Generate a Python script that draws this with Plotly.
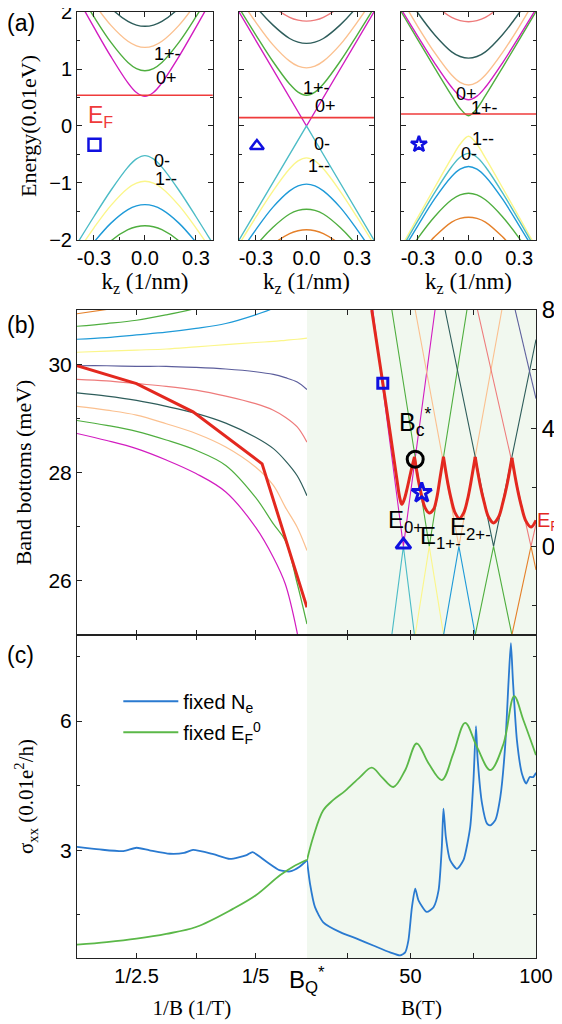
import plotly.graph_objects as go

SANS = "Liberation Sans, Arial, sans-serif"
SERIF = "Liberation Serif, Times New Roman, serif"

# ---------------- colours ----------------
C_MAG = "#d21cc0"
C_GRN = "#4fae3f"
C_PEA = "#fbc08f"
C_SLA = "#2e5d5b"
C_SAL = "#ee7b7b"
C_NAV = "#5c5e9c"
C_CYA = "#4cbcc6"
C_YEL = "#fbf68a"
C_BLU = "#1e9ad8"
C_ORA = "#e5802a"
C_RED = "#e3281f"
C_SHADE = "#f1f8ef"

# ---------------- panel (a): Landau bands vs kz ----------------
K_HALF = [0.0, 0.05, 0.1, 0.2, 0.3, 0.4]   # kz (1/nm), curves are symmetric

# subplot 1 (square)
a1_mag = [0.52, 0.588, 0.757, 1.217, 1.730, 2.261]
a1_grn = [0.97, 1.008, 1.115, 1.467, 1.914, 2.404]
a1_pea = [1.38, 1.407, 1.486, 1.765, 2.151, 2.597]
a1_sla = [1.75, 1.771, 1.834, 2.067, 2.405, 2.800]
a1_cya = [-0.52, -0.577, -0.721, -1.127, -1.588, -2.067]
a1_yel = [-0.97, -1.002, -1.091, -1.393, -1.786, -2.223]
a1_blu = [-1.38, -1.402, -1.468, -1.704, -2.038, -2.430]
a1_gr2 = [-1.75, -1.768, -1.820, -2.016, -2.330, -2.660]
a1_EF = 0.54

# subplot 2 (triangle)
a2_mag = [0.0, 0.25, 0.5, 1.0, 1.5, 2.0]
a2_grn = [0.54, 0.595, 0.737, 1.136, 1.596, 2.072]
a2_pea = [1.02, 1.050, 1.138, 1.428, 1.818, 2.250]
a2_sla = [1.45, 1.471, 1.535, 1.774, 2.093, 2.480]
a2_sal = [1.84, 1.857, 1.907, 2.097, 2.380, 2.730]
a2_cya = [0.0, -0.25, -0.5, -1.0, -1.5, -2.0]
a2_yel = [-0.56, -0.613, -0.751, -1.146, -1.601, -2.077]
a2_blu = [-1.02, -1.050, -1.138, -1.428, -1.818, -2.250]
a2_gr2 = [-1.46, -1.481, -1.544, -1.782, -2.100, -2.490]
a2_ora = [-1.82, -1.837, -1.888, -2.079, -2.370, -2.720]
a2_EF = 0.146

# subplot 3 (star)
a3_grn = [0.18, 0.308, 0.532, 1.016, 1.511, 2.008]
a3_mag = [0.46, 0.524, 0.679, 1.100, 1.569, 2.052]
a3_pea = [0.72, 0.767, 0.894, 1.282, 1.741, 2.243]
a3_sla = [1.19, 1.219, 1.301, 1.597, 1.982, 2.430]
a3_sal = [1.83, 1.849, 1.905, 2.125, 2.430, 2.800]
a3_yel = [-0.18, -0.320, -0.560, -1.075, -1.600, -2.128]
a3_cya = [-0.48, -0.548, -0.715, -1.164, -1.662, -2.174]
a3_blu = [-0.71, -0.758, -0.886, -1.276, -1.746, -2.236]
a3_gr2 = [-1.18, -1.209, -1.295, -1.587, -1.966, -2.400]
a3_ora = [-1.60, -1.622, -1.686, -1.941, -2.270, -2.660]
a3_EF = 0.21

K_EDGE = [-0.4, 0.4]

# band labels (text, kz, E)
a1_labels = [("1+-", 0.13, 1.27), ("0+", 0.125, 0.85), ("0-", 0.10, -0.62), ("1--", 0.125, -0.93)]
a2_labels = [("1+-", 0.06, 0.66), ("0+", 0.11, 0.35), ("0-", 0.09, -0.32), ("1--", 0.075, -0.70)]
a3_labels = [("0+", -0.01, 0.56), ("1+-", 0.095, 0.31), ("1--", 0.085, -0.23), ("0-", 0.0, -0.50)]
a_marker_k = [-0.297, -0.294, -0.294]
a_marker_E = [-0.33, -0.35, -0.32]

# ---------------- panel (b) left: band bottoms vs 1/B ----------------
invB = [0.5, 0.45, 0.4, 0.35, 0.3, 0.25, 0.2, 0.17, 0.15, 0.13, 0.1136]
bL_mag = [28.72, 28.59, 28.44, 28.23, 27.98, 27.64, 26.99, 26.43, 25.94, 25.04, 24.0]
bL_grn = [28.96, 28.87, 28.76, 28.60, 28.41, 28.13, 27.54, 27.05, 26.74, 25.95, 25.2]
bL_pea = [29.22, 29.15, 29.06, 28.90, 28.72, 28.47, 28.10, 27.76, 27.36, 26.99, 26.56]
bL_sla = [29.47, 29.41, 29.33, 29.22, 29.09, 28.91, 28.65, 28.44, 28.22, 27.94, 27.57]
bL_sal = [29.72, 29.69, 29.64, 29.59, 29.52, 29.41, 29.27, 29.15, 29.02, 28.84, 28.56]
bL_nav = [29.97, 29.97, 29.96, 29.96, 29.94, 29.91, 29.86, 29.81, 29.75, 29.67, 29.53]
bL_yel = [30.22, 30.24, 30.26, 30.28, 30.32, 30.36, 30.40, 30.42, 30.44, 30.46, 30.48]
bL_blu = [30.46, 30.49, 30.54, 30.59, 30.66, 30.75, 30.91, 31.03, 31.12, 31.22, 31.31]
bL_gr2 = [30.70, 30.75, 30.81, 30.91, 31.03, 31.19]
bL_ora = [30.93, 31.01, 31.09]
bL_red_x = [0.5, 0.4, 0.305, 0.189, 0.1136]
bL_red_y = [29.97, 29.64, 29.12, 28.16, 25.51]

# ---------------- panel (b) right: band bottoms vs B ----------------
bR_mag_B, bR_mag_E = [35.0, 47.2, 59.8], [8, 0, 8]
bR_grn_B, bR_grn_E = [42.6, 57.5, 72.5], [8, 0, 8]
bR_pea_B, bR_pea_E = [51.9, 69.3, 86.4], [8, 0, 8]
bR_sla_B, bR_sla_E = [63.8, 83.1, 100.0], [8, 0, 7.0]
bR_sal_B, bR_sal_E = [76.7, 98.0, 100.0], [8, 0, 0.75]
bR_nav_B, bR_nav_E = [91.7, 100.0], [8, 5.0]
bR_cya_B, bR_cya_E = [42.6, 47.2, 51.6], [-3, 0, -3]
bR_yel_B, bR_yel_E = [51.9, 57.5, 63.2], [-3, 0, -3]
bR_blu_B, bR_blu_E = [63.2, 69.3, 75.8], [-3, 0, -3]
bR_gr2_B, bR_gr2_E = [75.8, 83.1, 90.4], [-3, 0, -3]
bR_ora_B, bR_ora_E = [90.4, 98.0, 100.0], [-3, 0, -0.8]

EF_B = [34.6, 39.0, 42.0, 44.6, 45.8, 46.6, 47.6, 48.8, 50.1, 51.6, None,
        51.6, 53.2, 54.5, 55.85, 57.45, 59.2, 60.5, 61.8, 63.15, None,
        63.15, 64.9, 66.3, 67.8, 69.5, 71.2, 72.7, 74.0, 75.8, None,
        75.8, 77.8, 79.45, 81.1, 83.1, 85.1, 86.75, 88.4, 90.4, None,
        90.4, 92.5, 94.2, 95.95, 98.0, 100.0]
EF_E = [8.0, 5.53, 3.8, 2.27, 1.62, 1.42, 1.6, 2.0, 2.5, 3.03, None,
        3.03, 2.21, 1.70, 1.30, 1.13, 1.25, 1.64, 2.32, 3.03, None,
        3.03, 2.13, 1.57, 1.13, 0.94, 1.13, 1.57, 2.13, 3.03, None,
        3.02, 2.06, 1.46, 0.99, 0.79, 0.99, 1.46, 2.06, 3.0, None,
        3.0, 1.99, 1.35, 0.86, 0.65, 0.88]

bR_sq = (39.0, 5.52)
bR_circ = (51.9, 2.95)
bR_tri = (47.2, 0.05)
bR_star = (54.5, 1.81)

# ---------------- panel (c): sigma_xx ----------------
cL_x = [0.5, 0.462, 0.422, 0.4, 0.378, 0.344, 0.32, 0.305, 0.271, 0.243, 0.215, 0.205, 0.182, 0.160, 0.142, 0.126, 0.1136]
cL_Ne = [3.08, 3.02, 2.98, 3.06, 3.00, 2.92, 2.94, 3.01, 2.91, 2.80, 2.89, 2.96, 2.74, 2.54, 2.51, 2.62, 2.77]
cL_EFx = [0.5, 0.45, 0.4, 0.35, 0.3, 0.238, 0.2, 0.159, 0.137, 0.1136]
cL_EF = [0.81, 0.87, 0.95, 1.06, 1.22, 1.64, 1.95, 2.42, 2.62, 2.78]

cR_B_Ne = [8.8, 10.0, 12.0, 15.3, 22.0, 28.6, 35.2, 41.9, 45.9, 47.9, 49.2, 50.6, 51.9, 53.2, 56.5, 59.2,
           61.2, 62.5, 63.15, 64.1, 65.8, 68.5, 71.1, 73.8, 75.1, 76.1, 76.7, 78.5, 80.5, 81.8, 83.8,
           85.8, 87.7, 89.1, 90.0, 90.8, 92.4, 94.4, 96.1, 97.5, 98.9, 100.0]
cR_Ne = [2.77, 2.23, 1.68, 1.33, 1.10, 0.95, 0.79, 0.63, 0.56, 0.63, 0.91, 1.68, 2.11, 1.84, 1.57, 1.68,
         2.07, 3.08, 3.97, 3.31, 2.77, 2.57, 2.77, 3.54, 4.63, 5.88, 5.17, 4.09, 3.62, 3.58, 3.70,
         4.24, 5.40, 6.95, 7.81, 6.95, 5.56, 4.78, 4.55, 4.70, 4.70, 4.80]
cR_B_EF = [8.8, 11.3, 15.3, 19.3, 24.0, 29.9, 34.6, 38.6, 43.2, 47.9, 52.5, 57.2, 62.5, 67.1, 71.8,
           76.5, 81.8, 87.1, 91.3, 95.0, 100.0]
cR_EF = [2.77, 3.31, 3.93, 4.17, 4.38, 4.70, 4.92, 4.70, 4.47, 4.86, 5.48, 5.02, 4.63, 5.25, 5.96,
         5.40, 4.86, 5.48, 6.58, 6.02, 5.21]

# ---------------- figure ----------------
fig = go.Figure()


def mirror(half):
    k = [-v for v in reversed(K_HALF[1:])] + K_HALF
    e = [v for v in reversed(half[1:])] + half
    return k, e


def band(half, color, xa, ya, shape="spline"):
    k, e = mirror(half)
    fig.add_trace(go.Scatter(x=k, y=e, xaxis=xa, yaxis=ya, mode="lines",
                             line=dict(color=color, width=1.4, shape=shape),
                             showlegend=False, hoverinfo="skip"))


def hline(val, xa, ya):
    fig.add_trace(go.Scatter(x=K_EDGE, y=[val, val], xaxis=xa, yaxis=ya, mode="lines",
                             line=dict(color="#ef3b3b", width=1.6), showlegend=False, hoverinfo="skip"))


for h, c in [(a1_mag, C_MAG), (a1_grn, C_GRN), (a1_pea, C_PEA), (a1_sla, C_SLA),
             (a1_cya, C_CYA), (a1_yel, C_YEL), (a1_blu, C_BLU), (a1_gr2, C_GRN)]:
    band(h, c, "x", "y")
hline(a1_EF, "x", "y")

for h, c in [(a2_grn, C_GRN), (a2_pea, C_PEA), (a2_sla, C_SLA), (a2_sal, C_SAL),
             (a2_yel, C_YEL), (a2_blu, C_BLU), (a2_gr2, C_GRN), (a2_ora, C_ORA)]:
    band(h, c, "x2", "y2")
band(a2_mag, C_MAG, "x2", "y2", shape="linear")
band(a2_cya, C_CYA, "x2", "y2", shape="linear")
hline(a2_EF, "x2", "y2")

for h, c in [(a3_grn, C_GRN), (a3_mag, C_MAG), (a3_pea, C_PEA), (a3_sla, C_SLA), (a3_sal, C_SAL),
             (a3_yel, C_YEL), (a3_cya, C_CYA), (a3_blu, C_BLU), (a3_gr2, C_GRN), (a3_ora, C_ORA)]:
    band(h, c, "x3", "y3")
hline(a3_EF, "x3", "y3")

for sym, xa, ya, kk, ee in [("square-open", "x", "y", a_marker_k[0], a_marker_E[0]),
                             ("triangle-up-open", "x2", "y2", a_marker_k[1], a_marker_E[1]),
                             ("star-open", "x3", "y3", a_marker_k[2], a_marker_E[2])]:
    fig.add_trace(go.Scatter(x=[kk], y=[ee], xaxis=xa, yaxis=ya, mode="markers",
                             marker=dict(symbol=sym, size=12, color="#1010e0", line=dict(width=2.5, color="#1010e0")),
                             showlegend=False, hoverinfo="skip"))

# panel (b) left
for ys, c in [(bL_mag, C_MAG), (bL_grn, C_GRN), (bL_pea, C_PEA), (bL_sla, C_SLA), (bL_sal, C_SAL),
              (bL_nav, C_NAV), (bL_yel, C_YEL), (bL_blu, C_BLU), (bL_gr2, C_GRN), (bL_ora, C_ORA)]:
    fig.add_trace(go.Scatter(x=invB[:len(ys)], y=ys, xaxis="x4", yaxis="y4", mode="lines",
                             line=dict(color=c, width=1.2, shape="spline"), showlegend=False, hoverinfo="skip"))
fig.add_trace(go.Scatter(x=bL_red_x, y=bL_red_y, xaxis="x4", yaxis="y4", mode="lines",
                         line=dict(color=C_RED, width=3), showlegend=False, hoverinfo="skip"))

# panel (b) right
for bx, by, c in [(bR_mag_B, bR_mag_E, C_MAG), (bR_grn_B, bR_grn_E, C_GRN), (bR_pea_B, bR_pea_E, C_PEA),
                  (bR_sla_B, bR_sla_E, C_SLA), (bR_sal_B, bR_sal_E, C_SAL), (bR_nav_B, bR_nav_E, C_NAV),
                  (bR_cya_B, bR_cya_E, C_CYA), (bR_yel_B, bR_yel_E, C_YEL), (bR_blu_B, bR_blu_E, C_BLU),
                  (bR_gr2_B, bR_gr2_E, C_GRN), (bR_ora_B, bR_ora_E, C_ORA)]:
    fig.add_trace(go.Scatter(x=bx, y=by, xaxis="x5", yaxis="y5", mode="lines",
                             line=dict(color=c, width=1.1), showlegend=False, hoverinfo="skip"))
fig.add_trace(go.Scatter(x=EF_B, y=EF_E, xaxis="x5", yaxis="y5", mode="lines", connectgaps=False,
                         line=dict(color=C_RED, width=3, shape="spline"), showlegend=False, hoverinfo="skip"))
for (bx, by), sym, col, sz in [(bR_sq, "square-open", "#1010e0", 10), (bR_circ, "circle-open", "black", 16),
                               (bR_tri, "triangle-up-open", "#1010e0", 13), (bR_star, "star-open", "#1010e0", 15)]:
    fig.add_trace(go.Scatter(x=[bx], y=[by], xaxis="x5", yaxis="y5", mode="markers",
                             marker=dict(symbol=sym, size=sz, color=col, line=dict(width=3, color=col)),
                             showlegend=False, hoverinfo="skip"))

# panel (c)
C_LBLUE = "#2a7ad0"
C_LGRN = "#5bb848"
fig.add_trace(go.Scatter(x=cL_x, y=cL_Ne, xaxis="x6", yaxis="y6", mode="lines",
                         line=dict(color=C_LBLUE, width=1.8, shape="spline", smoothing=0.6),
                         name="fixed N<sub>e</sub>", legendgroup="ne", hoverinfo="skip"))
fig.add_trace(go.Scatter(x=cL_EFx, y=cL_EF, xaxis="x6", yaxis="y6", mode="lines",
                         line=dict(color=C_LGRN, width=1.8, shape="spline"),
                         name="fixed E<sub>F</sub><sup>0</sup>", legendgroup="ef", hoverinfo="skip"))
fig.add_trace(go.Scatter(x=cR_B_Ne, y=cR_Ne, xaxis="x7", yaxis="y7", mode="lines",
                         line=dict(color=C_LBLUE, width=1.8, shape="spline", smoothing=0.6),
                         showlegend=False, legendgroup="ne", hoverinfo="skip"))
fig.add_trace(go.Scatter(x=cR_B_EF, y=cR_EF, xaxis="x7", yaxis="y7", mode="lines",
                         line=dict(color=C_LGRN, width=1.8, shape="spline"),
                         showlegend=False, legendgroup="ef", hoverinfo="skip"))

# ---------------- axes ----------------
TICKF = dict(family=SANS, size=20, color="black")


def axis(**kw):
    base = dict(showline=True, linecolor="#222", linewidth=1, ticks="inside", ticklen=5,
                tickcolor="#222", showgrid=False, zeroline=False, tickfont=TICKF, automargin=False,
                ticklabeloverflow="allow")
    base.update(kw)
    return base


def minor(vals, ln=3):
    return dict(tickvals=vals, ticklen=ln, ticks="inside", tickcolor="#222")


A_DOM_Y = [0.759, 1.0]
kz_title = dict(text="k<sub>z</sub> (1/nm)", font=dict(family=SERIF, size=23, color="black"), standoff=0)
for i, dom in [("", [0.0, 0.296]), ("2", [0.353, 0.647]), ("3", [0.706, 1.0])]:
    fig.layout["xaxis" + i] = axis(domain=dom, anchor="y" + i, range=[-0.4, 0.4], mirror="ticks",
                                    tickvals=[-0.3, 0, 0.3], ticktext=["-0.3", "0.0", "0.3"],
                                    minor=minor([-0.15, 0.15]), title=kz_title)
    fig.layout["yaxis" + i] = axis(domain=A_DOM_Y, anchor="x" + i, range=[-2, 2], mirror="ticks",
                                    tickvals=[-2, -1, 0, 1, 2], showticklabels=(i == ""),
                                    minor=minor([-1.5, -0.5, 0.5, 1.5]))
fig.layout.yaxis.title = dict(text="Energy(0.01eV)", font=dict(family=SERIF, size=22, color="black"), standoff=6)

B_DOM = [0.3415, 0.685]
C_DOM = [0.0, 0.3415]
XL = [0.5, 0.1136]
XR = [8.8, 100]
fig.layout.xaxis4 = axis(domain=[0, 0.501], anchor="y4", range=XL, mirror="ticks", tickvals=[0.4, 0.2],
                         showticklabels=False, minor=minor([0.3], 5))
fig.layout.yaxis4 = axis(domain=B_DOM, anchor="x4", range=[25, 31], tickvals=[26, 28, 30],
                         tickfont=dict(family=SANS, size=21, color="black"),
                         minor=minor([25, 27, 29, 31]),
                         title=dict(text="Band bottoms (meV)", font=dict(family=SERIF, size=22, color="black"), standoff=10))
fig.layout.xaxis5 = axis(domain=[0.501, 1], anchor="y5", range=XR, mirror="ticks", tickvals=[50, 100],
                         showticklabels=False, minor=minor([25, 75], 5))
fig.layout.yaxis5 = axis(domain=B_DOM, anchor="x5", side="right", range=[-3, 8], tickvals=[0, 4, 8],
                         tickfont=dict(family=SANS, size=24, color="black"),
                         minor=minor([-2, 2, 6], 4))
fig.layout.xaxis6 = axis(domain=[0, 0.501], anchor="y6", range=XL, mirror="ticks", tickvals=[0.4, 0.2],
                         ticktext=["1/2.5", "1/5"], minor=minor([0.3], 5),
                         title=dict(text="1/B (1/T)", font=dict(family=SERIF, size=21, color="black"), standoff=14))
fig.layout.yaxis6 = axis(domain=C_DOM, anchor="x6", range=[0.5, 8], tickvals=[3, 6],
                         tickfont=dict(family=SANS, size=21, color="black"),
                         minor=minor([1.5, 4.5, 7.5]),
                         title=dict(text="σ<sub>xx</sub> (0.01e<sup>2</sup>/h)", font=dict(family=SERIF, size=21, color="black"), standoff=20))
fig.layout.xaxis7 = axis(domain=[0.501, 1], anchor="y7", range=XR, mirror="ticks", tickvals=[50, 100],
                         minor=minor([25, 75], 5),
                         title=dict(text="B(T)", font=dict(family=SERIF, size=21, color="black"), standoff=14))
fig.layout.yaxis7 = axis(domain=C_DOM, anchor="x7", side="right", range=[0.5, 8], tickvals=[3, 6],
                         showticklabels=False, minor=minor([1.5, 4.5, 7.5]))

# shaded high-field region
shapes = []
for xa, ya in [("x5", "y5"), ("x7", "y7")]:
    shapes.append(dict(type="rect", xref=xa + " domain", yref=ya + " domain", x0=0, x1=1, y0=0, y1=1,
                       fillcolor=C_SHADE, line=dict(width=0), layer="below"))

# ---------------- annotations ----------------
ann = []
for lbls, xa, ya in [(a1_labels, "x", "y"), (a2_labels, "x2", "y2"), (a3_labels, "x3", "y3")]:
    for t, kk, ee in lbls:
        ann.append(dict(text=t, x=kk, y=ee, xref=xa, yref=ya, showarrow=False,
                        font=dict(family=SANS, size=18, color="black")))
ann.append(dict(text="E<sub>F</sub>", x=-0.26, y=0.17, xref="x", yref="y", showarrow=False,
                font=dict(family=SANS, size=23, color="#ef3b3b")))
for t, bx, by, sz, col in [("B<sub>c</sub><sup>*</sup>", 51.9, 4.2, 25, "black"),
                           ("E<sub>0+</sub>", 47.9, 0.85, 24, "black"),
                           ("E<sub>1+-</sub>", 62.0, 0.3, 24, "black"),
                           ("E<sub>2+-</sub>", 73.8, 0.6, 24, "black")]:
    ann.append(dict(text=t, x=bx, y=by, xref="x5", yref="y5", showarrow=False,
                    font=dict(family=SANS, size=sz, color=col)))
ann.append(dict(text="E<sub>F</sub>", x=1.001, y=0.85, xref="paper", yref="y5", xanchor="left", showarrow=False,
                borderpad=0, font=dict(family=SANS, size=20, color=C_RED)))
ann.append(dict(text="B<sub>Q</sub><sup>*</sup>", x=8.8, y=-0.003, xref="x7", yref="paper", yanchor="top",
                showarrow=False, font=dict(family=SANS, size=24, color="black")))
for t, yy, ya in [("(a)", 1.0042, "top"), ("(b)", 0.669, "middle"), ("(c)", 0.320, "middle")]:
    ann.append(dict(text=t, x=-0.157, y=yy, xref="paper", yref="paper", xanchor="left", yanchor=ya,
                    showarrow=False, font=dict(family=SANS, size=23, color="black")))

fig.update_layout(
    width=554, height=1016,
    margin=dict(l=69, r=26, t=4, b=66),
    paper_bgcolor="white", plot_bgcolor="white",
    shapes=shapes, annotations=ann,
    showlegend=True,
    legend=dict(x=0.09, y=0.292, xanchor="left", yanchor="top", bgcolor="rgba(0,0,0,0)",
                font=dict(family=SANS, size=20, color="black"), tracegroupgap=2, itemwidth=55),
)

fig.write_html("out.html")
